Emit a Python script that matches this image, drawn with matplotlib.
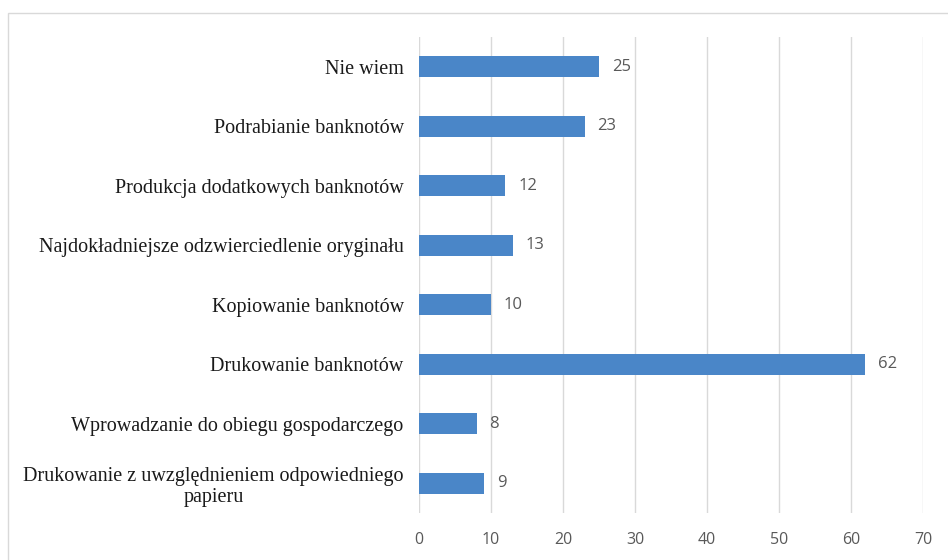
import matplotlib.pyplot as plt
from matplotlib.patches import Rectangle

# data, bottom to top
categories = [
    "Drukowanie z uwzględnieniem odpowiedniego\npapieru",
    "Wprowadzanie do obiegu gospodarczego",
    "Drukowanie banknotów",
    "Kopiowanie banknotów",
    "Najdokładniejsze odzwierciedlenie oryginału",
    "Produkcja dodatkowych banknotów",
    "Podrabianie banknotów",
    "Nie wiem",
]
values = [9, 8, 62, 10, 13, 12, 23, 25]
x_ticks = [0, 10, 20, 30, 40, 50, 60, 70]

bar_color = "#4a86c8"
grid_color = "#d9d9d9"
text_gray = "#595959"

fig = plt.figure(figsize=(9.48, 5.6), dpi=100)
ax = fig.add_axes([419 / 948, 47 / 560, (923 - 419) / 948, (523 - 47) / 560])

# outer chart border (only top/left visible in the crop)
fig.patches.append(Rectangle((8 / 948, -0.1), 1.0, (560 - 13) / 560 + 0.1,
                             transform=fig.transFigure, fill=False,
                             edgecolor=grid_color, linewidth=1.0))

y = list(range(len(categories)))
bars = ax.barh(y, values, height=0.35, color=bar_color, zorder=3)

ax.set_xlim(0, 70)
ax.set_ylim(-0.5, len(categories) - 0.5)
ax.set_xticks(x_ticks)
ax.set_xticklabels([str(t) for t in x_ticks], family="Open Sans",
                   fontsize=11.5, color=text_gray)
ax.set_yticks(y)
ax.set_yticklabels(categories, family="Liberation Serif", fontsize=14.5,
                   color="#1a1a1a", multialignment="center", linespacing=1.15)
ax.tick_params(axis="both", length=0)
ax.tick_params(axis="y", pad=11)
ax.tick_params(axis="x", pad=14)

ax.xaxis.grid(True, color=grid_color, linewidth=1.0, zorder=0)
for side in ["top", "right", "bottom", "left"]:
    ax.spines[side].set_visible(False)

for b, v in zip(bars, values):
    ax.annotate(str(v), (b.get_width(), b.get_y() + b.get_height() / 2),
                xytext=(13, 0), textcoords="offset pixels",
                va="center", ha="left", family="Open Sans",
                fontsize=12, color=text_gray)

fig.savefig("out.png", dpi=100)
